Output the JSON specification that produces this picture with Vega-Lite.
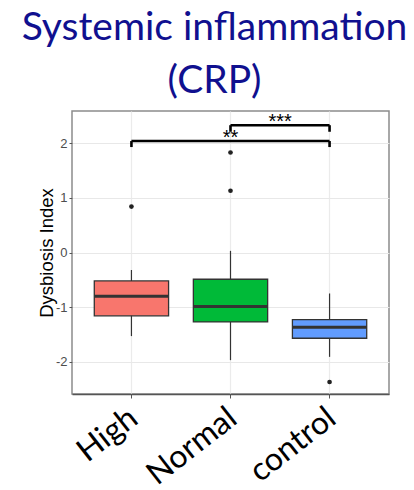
{
  "$schema": "https://vega.github.io/schema/vega-lite/v6.json",
  "autosize": "none",
  "width": 317,
  "height": 283,
  "padding": {"left": 72, "top": 111, "right": 25, "bottom": 96},
  "background": "white",
  "title": {
    "text": ["Systemic inflammation", "(CRP)"],
    "font": "Lato",
    "fontSize": 39,
    "fontWeight": "normal",
    "color": "#10108f",
    "lineHeight": 53,
    "anchor": "middle",
    "dx": -16,
    "offset": 10
  },
  "config": {
    "locale": {
      "number": {"decimal": ".", "thousands": ",", "grouping": [3], "currency": ["$", ""], "minus": "-"}
    },
    "view": {"stroke": "#8c8c8c", "strokeWidth": 1.5},
    "axisX": {
      "bandPosition": 0.5,
      "grid": true,
      "gridColor": "#ebebeb",
      "gridWidth": 1.2,
      "labelAngle": -38,
      "labelAlign": "right",
      "labelBaseline": "top",
      "labelFont": "Lato",
      "labelFontSize": 32,
      "labelColor": "#000000",
      "labelPadding": 4,
      "labelOffset": -7,
      "labelOverlap": false,
      "tickColor": "#555555",
      "tickSize": 4,
      "domainColor": "#555555",
      "domainWidth": 1.5
    },
    "axisY": {
      "titleFont": "Liberation Sans",
      "titleFontSize": 18.5,
      "titleFontWeight": "normal",
      "titleColor": "#000000",
      "titlePadding": -1,
      "labelFont": "Liberation Sans",
      "labelFontSize": 13,
      "labelColor": "#4d4d4d",
      "labelPadding": 2,
      "tickColor": "#555555",
      "tickSize": 3,
      "grid": true,
      "gridColor": "#e8e8e8",
      "gridWidth": 1.2,
      "domain": false
    }
  },
  "datasets": {
    "boxes": [
      {"group": "High", "lower": -1.53, "q1": -1.16, "median": -0.80, "q3": -0.52, "upper": -0.32},
      {"group": "Normal", "lower": -1.97, "q1": -1.27, "median": -0.99, "q3": -0.49, "upper": 0.03},
      {"group": "control", "lower": -1.91, "q1": -1.57, "median": -1.37, "q3": -1.23, "upper": -0.75}
    ],
    "outliers": [
      {"group": "High", "value": 0.84},
      {"group": "Normal", "value": 1.83},
      {"group": "Normal", "value": 1.13},
      {"group": "control", "value": -2.37}
    ],
    "brackets": [
      {"group": "High", "group2": "control", "y": 2.04, "tip": 1.93, "label": "**"},
      {"group": "Normal", "group2": "control", "y": 2.33, "tip": 2.21, "label": "***"}
    ]
  },
  "layer": [
    {
      "data": {"name": "boxes"},
      "mark": {"type": "rule", "color": "#333333", "strokeWidth": 1.2},
      "encoding": {
        "x": {
          "field": "group", "type": "nominal",
          "scale": {"type": "band", "domain": ["High", "Normal", "control"], "paddingInner": 0.25, "paddingOuter": 0.225},
          "axis": {"title": null}
        },
        "y": {
          "field": "lower", "type": "quantitative",
          "scale": {"domain": [-2.59, 2.59], "nice": false, "zero": false},
          "axis": {
            "title": "Dysbiosis Index",
            "values": [-2, -1, 0, 1, 2],
            "format": "d"
          }
        },
        "y2": {"field": "upper"}
      }
    },
    {
      "data": {"name": "boxes"},
      "mark": {"type": "bar", "stroke": "#333333", "strokeWidth": 1.3},
      "encoding": {
        "x": {"field": "group", "type": "nominal"},
        "y": {"field": "q1", "type": "quantitative"},
        "y2": {"field": "q3"},
        "fill": {
          "field": "group", "type": "nominal", "legend": null,
          "scale": {"domain": ["High", "Normal", "control"], "range": ["#F8766D", "#00BA38", "#619CFF"]}
        }
      }
    },
    {
      "data": {"name": "boxes"},
      "mark": {"type": "bar", "fill": null, "stroke": "#333333", "strokeWidth": 3},
      "encoding": {
        "x": {"field": "group", "type": "nominal"},
        "y": {"field": "median", "type": "quantitative"},
        "y2": {"field": "median"}
      }
    },
    {
      "data": {"name": "outliers"},
      "mark": {"type": "circle", "color": "#222222", "opacity": 1, "size": 22},
      "encoding": {
        "x": {"field": "group", "type": "nominal"},
        "y": {"field": "value", "type": "quantitative"}
      }
    },
    {
      "data": {"name": "brackets"},
      "mark": {"type": "rule", "color": "#000000", "strokeWidth": 2.6},
      "encoding": {
        "x": {"field": "group", "type": "nominal", "bandPosition": 0.5},
        "x2": {"field": "group2", "bandPosition": 0.5},
        "y": {"field": "y", "type": "quantitative"}
      }
    },
    {
      "data": {"name": "brackets"},
      "mark": {"type": "rule", "color": "#000000", "strokeWidth": 2.6},
      "encoding": {
        "x": {"field": "group", "type": "nominal"},
        "y": {"field": "tip", "type": "quantitative"},
        "y2": {"field": "y"}
      }
    },
    {
      "data": {"name": "brackets"},
      "mark": {"type": "rule", "color": "#000000", "strokeWidth": 2.6},
      "encoding": {
        "x": {"field": "group2", "type": "nominal"},
        "y": {"field": "tip", "type": "quantitative"},
        "y2": {"field": "y"}
      }
    },
    {
      "data": {"name": "brackets"},
      "transform": [{"filter": "datum.label === '**'"}],
      "mark": {"type": "text", "font": "Liberation Sans", "fontSize": 20, "color": "#000000", "baseline": "alphabetic", "align": "center", "dx": -99, "dy": 3},
      "encoding": {
        "x": {"field": "group2", "type": "nominal"},
        "y": {"field": "y", "type": "quantitative"},
        "text": {"field": "label"}
      }
    },
    {
      "data": {"name": "brackets"},
      "transform": [{"filter": "datum.label === '***'"}],
      "mark": {"type": "text", "font": "Liberation Sans", "fontSize": 20, "color": "#000000", "baseline": "alphabetic", "align": "center", "dx": -49.5, "dy": 3},
      "encoding": {
        "x": {"field": "group2", "type": "nominal"},
        "y": {"field": "y", "type": "quantitative"},
        "text": {"field": "label"}
      }
    }
  ]
}
